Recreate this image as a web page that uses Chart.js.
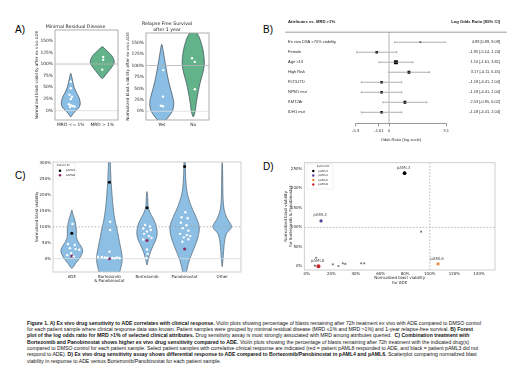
<!DOCTYPE html>
<html>
<head>
<meta charset="utf-8">
<script src="https://cdn.jsdelivr.net/npm/chart.js@4.4.1/dist/chart.umd.min.js"></script>
<style>
  body { margin: 0; background: #fff; }
  #fig { position: relative; width: 520px; height: 368px; overflow: hidden; background: #fff; }
  canvas { position: absolute; }
  .lab { position: absolute; font: 10px/10px "Liberation Sans", Arial, sans-serif; color: #000; }
  #cap { position: absolute; left: 27px; top: 319.5px; font: 5.15px/6.4px "Liberation Sans", Arial, sans-serif; color: #111; white-space: nowrap; }
  #cap div { height: 6.4px; }
</style>
</head>
<body>
<div id="fig">
  <div class="lab" style="left:15px;top:25px">A)</div>
  <div class="lab" style="left:263px;top:25px">B)</div>
  <div class="lab" style="left:15px;top:170.5px">C)</div>
  <div class="lab" style="left:263px;top:161.5px">D)</div>
  <canvas id="a1" width="89" height="122" style="left:33px;top:14px"></canvas>
  <canvas id="a2" width="88" height="122" style="left:125px;top:14px"></canvas>
  <canvas id="b" width="230" height="136" style="left:280px;top:14px"></canvas>
  <canvas id="c" width="211" height="134" style="left:34px;top:156px"></canvas>
  <canvas id="d" width="218" height="132" style="left:282px;top:156px"></canvas>
  <div id="cap">
    <div><b>Figure 1. A) Ex vivo drug sensitivity to ADE correlates with clinical response.</b> Violin plots showing percentage of blasts remaining after 72h treatment ex vivo with ADE compared to DMSO control</div>
    <div>for each patient sample where clinical response data was known. Patient samples were grouped by minimal residual disease (MRD ≤1% and MRD &gt;1%) and 1-year relapse-free survival. <b>B) Forest</b></div>
    <div><b>plot of the log odds ratio for MRD &gt;1% of selected clinical attributes.</b> Drug sensitivity assay is most strongly associated with MRD among attributes queried.&nbsp; <b>C) Combination treatment with</b></div>
    <div><b>Bortezomib and Panobinostat shows higher ex vivo drug sensitivity compared to ADE.</b> Violin plots showing the percentage of blasts remaining after 72h treatment with the indicated drug(s)</div>
    <div>compared to DMSO control for each patient sample. Select patient samples with correlative clinical response are indicated (red = patient pAML8 responded to ADE, and black = patient pAML3 did not</div>
    <div>respond to ADE). <b>D) Ex vivo drug sensitivity assay shows differential response to ADE compared to Bortezomib/Panobinostat in pAML4 and pAML6.</b> Scatterplot comparing normalized blast</div>
    <div>viability in response to ADE versus Bortezomib/Panobinostat for each patient sample.</div>
  </div>
</div>
<script>
// ---- A) minimal residual disease ----
const mrdCats = ['MRD <= 1%', 'MRD > 1%'];
const mrdLowVals = [62, 48, 34, 30, 25, 14, 12, 10, 9, 8];
const mrdLowJit = [0, 0, -0.04, 0.04, 0, -0.06, 0, 0.06, 0.12, -0.02];
const mrdHighVals = [115, 109, 88];
const mrdHighJit = [0.03, 0.03, 0];
// violin outlines: level (%) and half width (category units)
const mrdLowLevels = [80, 70, 60, 50, 40, 30, 20, 12, 5, 0, -6, -13];
const mrdLowWidth = [0, 0.04, 0.07, 0.11, 0.17, 0.25, 0.295, 0.295, 0.24, 0.16, 0.08, 0];
const mrdHighLevels = [137, 130, 122, 114, 104, 95, 86, 77, 69];
const mrdHighWidth = [0, 0.12, 0.25, 0.34, 0.38, 0.32, 0.22, 0.11, 0];

// ---- A) relapse free survival ----
const rfsCats = ['Yes', 'No'];
const rfsYesVals = [90, 32, 12, 11];
const rfsYesJit = [0.05, 0.04, -0.03, 0.04];
const rfsNoVals = [116, 108, 48];
const rfsNoJit = [-0.04, 0.05, 0.05];
const rfsYesLevels = [146, 130, 101, 65, 28, 14, 1, -10, -19, -28];
const rfsYesWidth = [0, 0.05, 0.12, 0.22, 0.36, 0.38, 0.34, 0.24, 0.13, 0];
const rfsNoLevels = [185, 171, 160, 140, 120, 100, 80, 60, 40, 20, 0, -12];
const rfsNoWidth = [0.05, 0.12, 0.2, 0.29, 0.34, 0.35, 0.29, 0.21, 0.15, 0.1, 0.06, 0];
const pctTicksA = [0, 25, 50, 75, 100, 125, 150];

// ---- B) forest plot ----
const attrNames = ['Ex vivo DSA >70% viability', 'Female', 'Age >13', 'High Risk', 'FLT3-ITD', 'NPM1 mut', 'KMT2Ar', 'IDH1 mut'];
const logOR = [4.99, -1.95, 1.10, 3.17, -1.18, -1.18, 2.53, -1.18];
const ciLow = [0.89, -5.14, -1.61, -0.11, -4.41, -4.41, -0.95, -4.41];
const ciHigh = [9.09, 1.24, 3.81, 6.45, 2.04, 2.04, 6.02, 2.04];
const orTicks = [-5.3, -1.61, 0, 9.1];

// ---- C) drugs ----
const drugCats = [['ADE'], ['Bortezomib', '& Panobinostat'], ['Bortezomib'], ['Panobinostat'], ['Other']];
const adeVals = [109, 46, 43, 33, 30, 28, 17, 11, 7];
const adeJit = [0.02, -0.1, 0.08, -0.05, 0.1, 0.2, -0.02, -0.12, 0.05];
const bpVals = [116, 90, 22, 6, 5, 4, 3, 2, 1, 4, 2];
const bpJit = [0.02, 0.02, 0, -0.3, -0.2, -0.12, -0.05, 0.08, 0.14, 0.2, 0.27];
const bortVals = [106, 101, 95, 90, 85, 78, 71, 65, 60, 29, 15, 2];
const bortJit = [-0.05, 0.08, -0.1, 0.1, 0, -0.08, 0.05, 0.12, -0.1, 0, 0.02, -0.02];
const panoVals = [146, 130, 127, 113, 105, 96, 88, 78, 74, 71, 67, 61, 53];
const panoJit = [0.02, -0.08, 0.08, -0.1, 0.05, -0.05, 0.1, -0.12, 0.06, 0.15, -0.02, 0.1, -0.06];
const pAML3Drug = [80, 240, 160, 290];
const pAML8Drug = [8, 0, 57, 30];
const adeLevels = [153, 140, 125, 110, 90, 70, 55, 40, 27, 15, 0, -15, -30];
const adeWidth = [0, 0.03, 0.07, 0.1, 0.12, 0.12, 0.16, 0.24, 0.29, 0.27, 0.2, 0.1, 0];
const bpLevels = [320, 280, 240, 200, 160, 120, 100, 70, 40, 15, 0, -15, -30, -42, -60, -75];
const bpWidth = [0.02, 0.03, 0.045, 0.07, 0.1, 0.15, 0.19, 0.24, 0.29, 0.33, 0.34, 0.33, 0.3, 0.27, 0.15, 0];
const bortLevels = [211, 190, 165, 145, 125, 105, 85, 70, 55, 40, 20, 0, -20];
const bortWidth = [0, 0.02, 0.03, 0.08, 0.17, 0.24, 0.27, 0.26, 0.22, 0.16, 0.09, 0.04, 0];
const panoLevels = [320, 290, 250, 206, 164, 132, 100, 69, 38, 6, -20, -42, -60];
const panoWidth = [0.01, 0.02, 0.03, 0.07, 0.18, 0.3, 0.39, 0.36, 0.27, 0.16, 0.09, 0.05, 0];
const otherLevels = [302, 280, 240, 200, 170, 150, 127, 110, 100, 90, 80, 60, 35, 10, -10, -25];
const otherWidth = [0, 0.01, 0.015, 0.02, 0.035, 0.06, 0.13, 0.22, 0.25, 0.2, 0.12, 0.07, 0.045, 0.03, 0.015, 0];
const pctTicksC = [0, 50, 100, 150, 200, 250, 300];

// ---- D) ADE vs Bortezomib & Panobinostat ----
const otherAde = [7.6, 6.7, 21.2, 25.8, 29.3, 31.3, 44.2, 46.7, 92.9];
const otherBp = [22, 1.5, 5, 0.8, 7.7, 6, 7.7, 7.7, 89];
const patientIds = ['pAML3', 'pAML4', 'pAML6', 'pAML8'];
const patientAde = [79.5, 11.6, 106.7, 9.5];
const patientBp = [239, 116.5, 6, 0];
const adeTicksD = [0, 20, 40, 60, 80, 100, 120, 140];
const bpTicksD = [0, 50, 100, 150, 200, 250];

Chart.defaults.font.family = 'DejaVu Sans';
Chart.defaults.color = '#262626';
Chart.defaults.animation = false;
Chart.defaults.responsive = false;
Chart.defaults.devicePixelRatio = 1;
Chart.defaults.events = [];
Chart.defaults.plugins.legend.display = false;
Chart.defaults.plugins.tooltip.enabled = false;

const fixW = w => s => { s.width = w; };
const fixH = h => s => { s.height = h; };
const setTicks = vals => s => { s.ticks = vals.map(v => ({ value: v })); };
const pts = (vals, at, jit) => vals.map((v, i) => ({ x: at + (jit ? jit[i] : 0), y: v }));
const noGrid = { display: false, drawTicks: false };

function smooth(ctx, p) {
  const n = p.length;
  ctx.moveTo(p[0][0], p[0][1]);
  for (let i = 0; i < n; i++) {
    const p0 = p[(i - 1 + n) % n], p1 = p[i], p2 = p[(i + 1) % n], p3 = p[(i + 2) % n];
    ctx.bezierCurveTo(p1[0] + (p2[0] - p0[0]) / 6, p1[1] + (p2[1] - p0[1]) / 6,
      p2[0] - (p3[0] - p1[0]) / 6, p2[1] - (p3[1] - p1[1]) / 6, p2[0], p2[1]);
  }
}

// violins + reference lines, drawn under the points
const violinPlugin = {
  id: 'violins',
  beforeDatasetsDraw(chart, args, o) {
    const { ctx, chartArea: a, scales: { x, y } } = chart;
    ctx.save();
    ctx.beginPath();
    ctx.rect(a.left, a.top, a.width, a.height);
    ctx.clip();
    (o.items || []).forEach(v => {
      let p = [];
      v.levels.forEach((l, i) => p.push([x.getPixelForValue(v.at + v.widths[i]), y.getPixelForValue(l)]));
      for (let i = v.levels.length - 1; i >= 0; i--) p.push([x.getPixelForValue(v.at - v.widths[i]), y.getPixelForValue(v.levels[i])]);
      p = p.filter((q, i) => {
        const r = p[(i + 1) % p.length];
        return Math.abs(q[0] - r[0]) > 0.01 || Math.abs(q[1] - r[1]) > 0.01;
      });
      ctx.beginPath();
      smooth(ctx, p);
      ctx.closePath();
      ctx.fillStyle = v.fill;
      ctx.fill();
      ctx.lineWidth = 0.7;
      ctx.strokeStyle = v.stroke;
      ctx.stroke();
    });
    (o.lines || []).forEach(l => {
      ctx.beginPath();
      ctx.strokeStyle = l.color;
      ctx.lineWidth = l.width || 0.8;
      ctx.setLineDash(l.dash || []);
      if (l.axis === 'y') {
        const py = y.getPixelForValue(l.value);
        ctx.moveTo(a.left, py); ctx.lineTo(a.right, py);
      } else {
        const px = x.getPixelForValue(l.value);
        ctx.moveTo(px, a.top); ctx.lineTo(px, a.bottom);
      }
      ctx.stroke();
    });
    ctx.restore();
  }
};

const framePlugin = {
  id: 'frame',
  afterDatasetsDraw(chart, args, o) {
    const { ctx, chartArea: a } = chart;
    ctx.save();
    ctx.strokeStyle = o.color;
    ctx.lineWidth = 0.8;
    ctx.strokeRect(a.left, a.top, a.width, a.height);
    ctx.restore();
  }
};

// small "Patient ID" key inside the plot
const keyPlugin = {
  id: 'key',
  afterDatasetsDraw(chart, args, o) {
    const { ctx, chartArea: a } = chart;
    const items = chart.data.datasets.filter(d => d.label);
    const bx = a.left + o.x, by = a.top + o.y;
    ctx.save();
    ctx.fillStyle = 'rgba(255,255,255,0.85)';
    ctx.strokeStyle = '#e2e2e2';
    ctx.lineWidth = 0.5;
    ctx.fillRect(bx, by, o.w, o.h);
    ctx.strokeRect(bx, by, o.w, o.h);
    ctx.textBaseline = 'middle';
    ctx.fillStyle = '#333';
    ctx.font = o.titleSize + 'px "DejaVu Sans"';
    ctx.textAlign = 'center';
    ctx.fillText(o.title, a.left + o.titleX, a.top + o.titleY);
    ctx.font = o.size + 'px "DejaVu Sans"';
    ctx.textAlign = 'left';
    items.forEach((d, i) => {
      const yy = a.top + o.firstY + i * o.row;
      ctx.fillStyle = d.backgroundColor;
      ctx.beginPath();
      ctx.arc(a.left + o.markX, yy, o.r, 0, Math.PI * 2);
      ctx.fill();
      ctx.fillStyle = '#333';
      ctx.fillText(d.label, a.left + o.textX, yy);
    });
    ctx.restore();
  }
};

const tagPlugin = {
  id: 'tags',
  afterDatasetsDraw(chart, args, o) {
    const ctx = chart.ctx;
    ctx.save();
    ctx.font = o.size + 'px "DejaVu Sans"';
    ctx.fillStyle = o.color;
    ctx.textAlign = 'center';
    ctx.textBaseline = 'middle';
    chart.data.datasets.forEach((d, i) => {
      if (!d.label) return;
      chart.getDatasetMeta(i).data.forEach(p => ctx.fillText(d.label, p.x - 1, p.y - o.gap));
    });
    ctx.restore();
  }
};

const headPlugin = {
  id: 'head',
  afterDraw(chart, args, o) {
    const { ctx, scales: { y, y2 } } = chart;
    const top = y.getPixelForValue(0);
    ctx.save();
    ctx.strokeStyle = '#777';
    ctx.lineWidth = 0.7;
    ctx.beginPath();
    ctx.moveTo(y.left - 3, top);
    ctx.lineTo(y2.right + 7, top);
    ctx.stroke();
    ctx.font = 'bold 4.2px "Liberation Sans"';
    ctx.fillStyle = '#222';
    ctx.textBaseline = 'middle';
    ctx.textAlign = 'left';
    ctx.fillText(o.left, y.left, top - 10);
    ctx.textAlign = 'right';
    ctx.fillText(o.right, y2.right, top - 10);
    ctx.restore();
  }
};

const blue = 'rgb(138,190,229)';
const green = 'rgb(98,178,138)';
const edge = '#3c4a57';
const white = { backgroundColor: '#fff', borderWidth: 0, pointRadius: 1.2 };

function violinPanel(id, cats, title, yTitle, ymin, ymax, leftW, titlePad, yTitlePad, sets, items) {
  return new Chart(document.getElementById(id), {
    type: 'scatter',
    data: { datasets: sets },
    options: {
      layout: { padding: { right: 4 } },
      scales: {
        x: {
          type: 'linear', min: -0.5, max: 1.5,
          afterBuildTicks: setTicks([0, 1]), afterFit: fixH(16),
          grid: noGrid, border: { display: false },
          ticks: { callback: v => cats[v], font: { size: 4.4 }, padding: 2.4, maxRotation: 0, autoSkip: false }
        },
        y: {
          min: ymin, max: ymax,
          afterBuildTicks: setTicks(pctTicksA), afterFit: fixW(leftW),
          grid: noGrid, border: { display: false },
          ticks: { callback: v => v + '%', font: { size: 4.4 }, padding: 2, autoSkip: false },
          title: { display: true, text: yTitle, font: { size: 4.1, lineHeight: 1.2 }, padding: { top: yTitlePad, bottom: 0 } }
        }
      },
      plugins: {
        title: { display: true, text: title, color: '#222', font: { size: 4.7, weight: 'normal', lineHeight: 1.25 }, padding: titlePad },
        violins: {
          items: items,
          lines: [
            { axis: 'y', value: 100, color: '#b4b4b4', width: 0.8 },
            { axis: 'y', value: 0, color: '#dcdcdc', width: 0.8 }
          ]
        },
        frame: { color: '#9a9a9a' }
      }
    },
    plugins: [violinPlugin, framePlugin]
  });
}

violinPanel('a1', mrdCats, 'Minimal Residual Disease', 'Normalized blast viability after ex vivo ADE',
  -20, 173, 22, { top: 9.76, bottom: 0.37 }, 1.4,
  [
    Object.assign({ data: pts(mrdLowVals, 0, mrdLowJit) }, white),
    Object.assign({ data: pts(mrdHighVals, 1, mrdHighJit) }, white)
  ],
  [
    { at: 0, levels: mrdLowLevels, widths: mrdLowWidth, fill: blue, stroke: edge },
    { at: 1, levels: mrdHighLevels, widths: mrdHighWidth, fill: green, stroke: edge }
  ]);

violinPanel('a2', rfsCats, ['Relapse Free Survival', 'after 1 year'], 'Normalized blast viability after ex vivo ADE',
  -19, 171, 21, { top: 7, bottom: 0.25 }, 0,
  [
    Object.assign({ data: pts(rfsYesVals, 0, rfsYesJit) }, white),
    Object.assign({ data: pts(rfsNoVals, 1, rfsNoJit) }, white)
  ],
  [
    { at: 0, levels: rfsYesLevels, widths: rfsYesWidth, fill: blue, stroke: edge },
    { at: 1, levels: rfsNoLevels, widths: rfsNoWidth, fill: green, stroke: edge }
  ]);

// ---- B ----
const ciText = logOR.map((v, i) => v.toFixed(2) + ' [' + ciLow[i].toFixed(2) + ', ' + ciHigh[i].toFixed(2) + ']');
const rowTicks = attrNames.map((n, i) => i + 1);
const ciGray = '#8a8a8a';
new Chart(document.getElementById('b'), {
  type: 'scatter',
  data: {
    datasets: [
      { type: 'line', data: [{ x: 0, y: 0 }, { x: 0, y: 9.1 }], borderColor: '#c6c6c6', borderWidth: 0.6, pointRadius: 0 },
      ...attrNames.map((n, i) => ({
        type: 'line',
        data: [{ x: ciLow[i], y: i + 1 }, { x: ciHigh[i], y: i + 1 }],
        borderColor: ciGray, borderWidth: 0.7,
        pointStyle: 'line', pointRotation: 90, pointRadius: 1.1,
        pointBorderColor: ciGray, pointBorderWidth: 0.6
      })),
      {
        data: logOR.map((v, i) => ({ x: v, y: i + 1 })),
        pointStyle: 'rect', pointRadius: [1.1, 1.9, 2.8, 2.0, 1.8, 1.8, 2.0, 1.8],
        backgroundColor: '#000', borderWidth: 0
      }
    ]
  },
  options: {
    layout: { padding: { left: 8, right: 10, top: 18.2 } },
    scales: {
      x: {
        min: -5.3, max: 9.1,
        afterBuildTicks: setTicks(orTicks), afterFit: fixH(26.7),
        grid: { drawOnChartArea: false, drawTicks: true, tickLength: 3, color: '#555', lineWidth: 0.6 },
        border: { display: true, color: '#555', width: 0.6 },
        ticks: { callback: v => String(v), font: { family: 'Liberation Sans', size: 4 }, padding: 2.3, maxRotation: 0, autoSkip: false, color: '#333' },
        title: { display: true, text: 'Odds Ratio (log scale)', font: { family: 'Liberation Sans', size: 4.1, lineHeight: 1.2 }, padding: { top: 0, bottom: 7.6 }, color: '#333' }
      },
      y: {
        min: 0, max: 9.1, reverse: true,
        afterBuildTicks: setTicks(rowTicks), afterFit: fixW(67.7),
        grid: noGrid, border: { display: false },
        ticks: { callback: v => attrNames[v - 1], crossAlign: 'far', font: { family: 'Liberation Sans', size: 4 }, autoSkip: false, color: '#2a2a2a' }
      },
      y2: {
        position: 'right', min: 0, max: 9.1, reverse: true,
        afterBuildTicks: setTicks(rowTicks), afterFit: fixW(53.8),
        grid: noGrid, border: { display: false },
        ticks: { callback: v => ciText[v - 1], crossAlign: 'far', font: { family: 'Liberation Sans', size: 3.9 }, autoSkip: false, color: '#2a2a2a' }
      }
    },
    plugins: {
      head: { left: 'Attributes vs. MRD >1%', right: 'Log Odds Ratio [95% CI]' }
    }
  },
  plugins: [headPlugin]
});

// ---- C ----
const cBlue = 'rgb(140,191,227)';
const cEdge = '#4d6273';
const pAML8Color = '#8a2660';
new Chart(document.getElementById('c'), {
  type: 'scatter',
  data: {
    datasets: [
      Object.assign({ data: [].concat(pts(adeVals, 0, adeJit), pts(bpVals, 1, bpJit), pts(bortVals, 2, bortJit), pts(panoVals, 3, panoJit)) }, white),
      { label: 'pAML3', data: pAML3Drug.map((v, i) => ({ x: i, y: v })), backgroundColor: '#000', borderWidth: 0, pointRadius: 1.5 },
      { label: 'pAML8', data: pAML8Drug.map((v, i) => ({ x: i, y: v })), backgroundColor: pAML8Color, borderWidth: 0, pointRadius: 1.5 }
    ]
  },
  options: {
    layout: { padding: { right: 4, top: 6 } },
    scales: {
      x: {
        type: 'linear', min: -0.5, max: 4.5,
        afterBuildTicks: setTicks([0, 1, 2, 3, 4]), afterFit: fixH(18),
        grid: noGrid, border: { display: false },
        ticks: { callback: v => drugCats[v], font: { size: 4, lineHeight: 1.15 }, padding: 2.4, maxRotation: 0, autoSkip: false }
      },
      y: {
        min: -42, max: 304,
        afterBuildTicks: setTicks(pctTicksC), afterFit: fixW(19),
        grid: noGrid, border: { display: false },
        ticks: { callback: v => v + '%', font: { size: 4 }, padding: 2, autoSkip: false },
        title: { display: true, text: 'Normalized blast viability', font: { size: 4, lineHeight: 1.2 }, padding: { top: 0.6, bottom: 0 } }
      }
    },
    plugins: {
      violins: {
        items: [
          { at: 0, levels: adeLevels, widths: adeWidth, fill: cBlue, stroke: cEdge },
          { at: 1, levels: bpLevels, widths: bpWidth, fill: cBlue, stroke: cEdge },
          { at: 2, levels: bortLevels, widths: bortWidth, fill: cBlue, stroke: cEdge },
          { at: 3, levels: panoLevels, widths: panoWidth, fill: cBlue, stroke: cEdge },
          { at: 4, levels: otherLevels, widths: otherWidth, fill: cBlue, stroke: cEdge }
        ],
        lines: [
          { axis: 'y', value: 100, color: '#a8a8a8', width: 0.8, dash: [1.6, 1.6] },
          { axis: 'y', value: 0, color: '#d4dbe0', width: 0.8 }
        ]
      },
      frame: { color: '#c4c4c4' },
      key: { x: 3, y: 1, w: 19, h: 16, title: 'Patient ID', titleSize: 2.6, size: 2.8, titleX: 10.3, titleY: 3.7, firstY: 8.7, row: 4.6, markX: 7, textX: 12.7, r: 1.3 }
    }
  },
  plugins: [violinPlugin, framePlugin, keyPlugin]
});

// ---- D ----
const patientColors = ['#000000', '#4f3f95', '#ee8a3c', '#c62828'];
new Chart(document.getElementById('d'), {
  type: 'scatter',
  data: {
    datasets: [
      { data: otherAde.map((v, i) => ({ x: v, y: otherBp[i] })), backgroundColor: '#7d7d7d', borderWidth: 0, pointRadius: 1.1 },
      ...patientIds.map((id, i) => ({
        label: id,
        data: [{ x: patientAde[i], y: patientBp[i] }],
        backgroundColor: patientColors[i], borderWidth: 0,
        pointRadius: [1.9, 1.6, 1.6, 2.0][i]
      }))
    ]
  },
  options: {
    layout: { padding: { right: 5, top: 6.7 } },
    scales: {
      x: {
        min: -2, max: 153,
        afterBuildTicks: setTicks(adeTicksD), afterFit: fixH(18),
        grid: noGrid, border: { display: false },
        ticks: { callback: v => v + '%', font: { size: 4 }, padding: 1.6, maxRotation: 0, autoSkip: false },
        title: { display: true, text: ['Normalized blast viability', 'for ADE'], font: { size: 4, lineHeight: 1.1 }, padding: { top: 0, bottom: 3.1 } }
      },
      y: {
        min: -9.5, max: 266,
        afterBuildTicks: setTicks(bpTicksD), afterFit: fixW(22.3),
        grid: noGrid, border: { display: false },
        ticks: { callback: v => v + '%', font: { size: 4 }, padding: 2, autoSkip: false },
        title: { display: true, text: ['Normalized blast viability', 'for Bortezomib & Panobinostat'], font: { size: 4, lineHeight: 1.15 }, padding: { top: 1.7, bottom: 0 } }
      }
    },
    plugins: {
      violins: {
        lines: [
          { axis: 'y', value: 100, color: '#a8a8a8', width: 0.8, dash: [1.6, 1.6] },
          { axis: 'x', value: 100, color: '#a8a8a8', width: 0.8, dash: [1.6, 1.6] }
        ]
      },
      frame: { color: '#c4c4c4' },
      key: { x: 2.7, y: 1.3, w: 26, h: 25, title: 'Patient ID', titleSize: 2.6, size: 2.8, titleX: 18.7, titleY: 3.3, firstY: 8.3, row: 4.5, markX: 9, textX: 14, r: 1.2 },
      tags: { size: 4, color: '#555', gap: 5.5 }
    }
  },
  plugins: [violinPlugin, framePlugin, keyPlugin, tagPlugin]
});
</script>
</body>
</html>
